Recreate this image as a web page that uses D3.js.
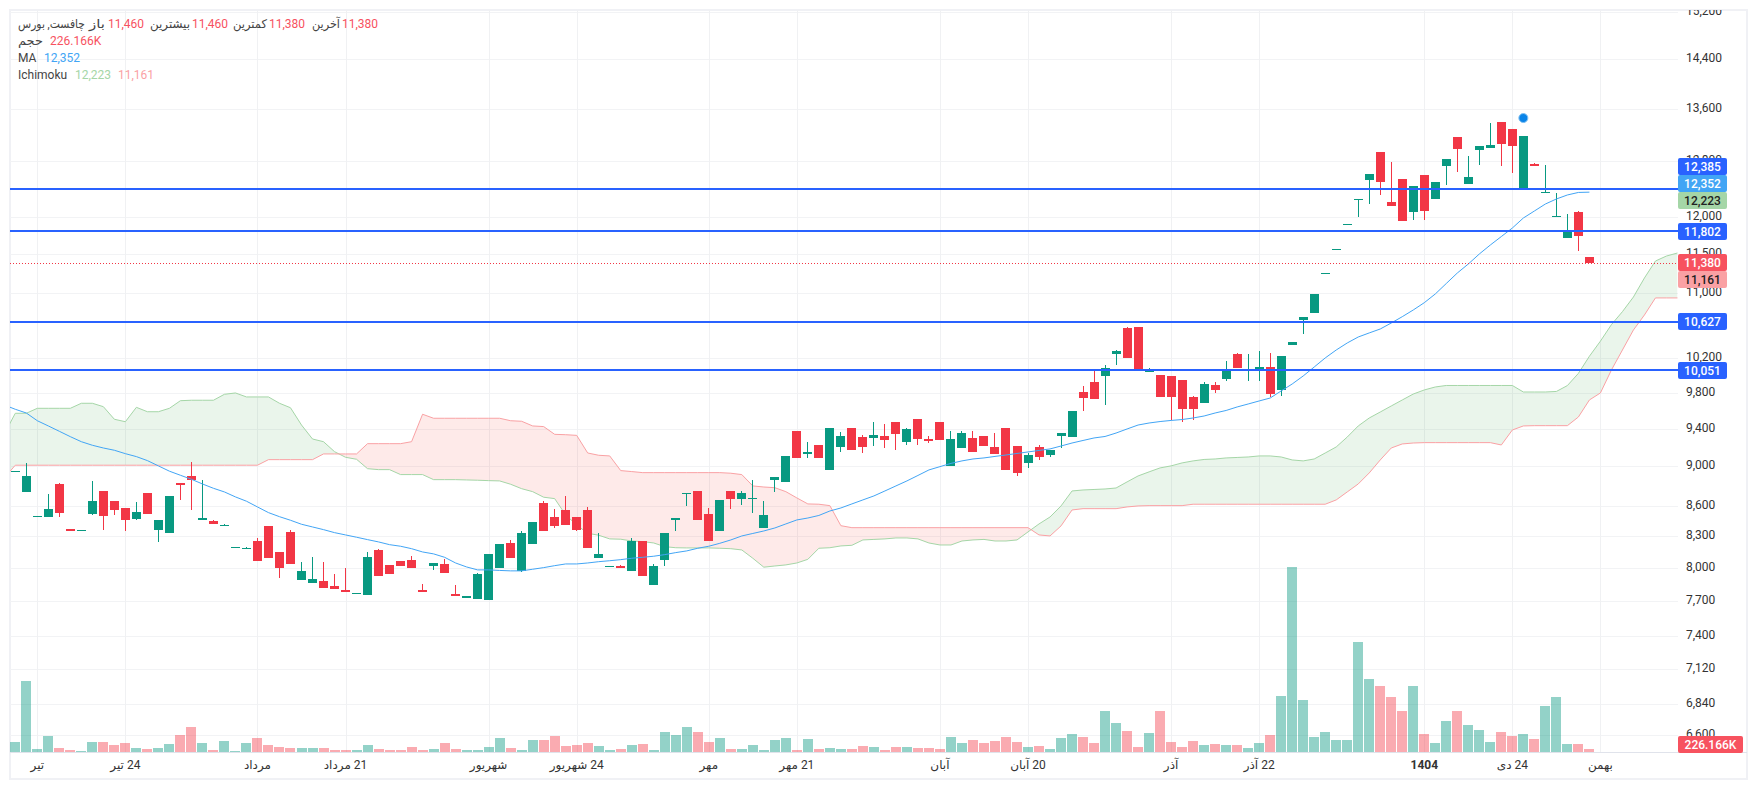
<!DOCTYPE html>
<html>
<head>
<meta charset="utf-8">
<script src="https://cdn.jsdelivr.net/npm/d3@7"></script>
<style>
html,body{margin:0;padding:0;background:#fff;overflow:hidden}
svg{display:block}
text{font-family:Roboto,"Noto Sans","DejaVu Sans",sans-serif;font-size:12px}
</style>
</head>
<body>
<div id="graph"></div>
<script>
// daily candles, oldest first
const opens = [8943,8738,8489,8489,8819,8373,8353,8519,8748,8648,
8578,8470,8728,8363,8334,8829,8901,8460,8450,8402,
8191,8181,8257,8402,8153,8344,7894,7867,7885,7839,
7803,7767,7758,8172,8032,8069,8078,7803,8022,8041,
7767,7732,7723,7714,8004,8238,7977,8229,8628,8489,
8558,8489,8558,8097,8013,8022,7977,8257,7848,8078,
8460,8718,8748,8519,8353,8748,8668,8668,8382,8860,
8840,9375,9130,9225,8963,9204,9408,9310,9300,9321,
9473,9257,9506,9289,9473,9005,9193,9300,9321,9204,
9408,9214,9036,9204,9119,9321,9310,9807,9921,9990,
10247,10559,10571,10036,10001,9990,9944,9751,9683,9887,
9956,10247,10048,10059,10094,9830,10354,10657,10744,11238,
11554,11892,12241,12527,12938,12213,12541,12072,12600,12255,
12730,13164,12469,12968,12998,13394,13286,12412,12760,12341,
12002,11715,12072,11460]
const closes = [8953,8901,8499,8568,8529,8353,8363,8648,8499,8558,
8460,8538,8519,8460,8698,8809,8860,8479,8421,8411,
8200,8191,8069,8097,8004,8041,7977,7903,7821,7812,
7785,7776,8106,7931,7949,8022,8004,7785,8050,7958,
7749,7749,7949,8135,8229,8097,8334,8440,8353,8402,
8411,8363,8191,8135,8022,8004,8257,7931,8022,8334,
8479,8728,8460,8257,8658,8668,8728,8678,8509,8891,
9109,9088,9151,9088,9408,9321,9172,9204,9332,9278,
9343,9397,9289,9268,9278,9289,9353,9151,9214,9130,
8963,8932,9119,9098,9172,9353,9594,9739,9728,10082,
10282,10200,10071,10071,9751,9751,9616,9616,9898,9830,
10071,10082,10071,10094,9784,10223,10390,10694,10982,11251,
11567,11906,12255,12614,12498,12156,11947,12440,12086,12498,
12834,12983,12570,13028,13043,13058,13028,13179,12730,12355,
12016,11824,11742,11380]
const highs = [8953,9036,8499,8718,8829,8373,8363,8850,8748,8648,
8578,8638,8728,8460,8698,8829,9046,8860,8460,8421,
8200,8200,8286,8402,8153,8363,8059,8106,8059,7949,
8004,7776,8153,8181,8032,8069,8116,7858,8050,8088,
7848,7749,7958,8135,8229,8267,8353,8440,8648,8568,
8698,8489,8588,8334,8022,8032,8286,8257,8041,8334,
8479,8728,8748,8578,8658,8748,8748,8860,8648,8891,
9109,9375,9257,9225,9408,9364,9408,9332,9473,9451,
9473,9408,9506,9321,9473,9375,9375,9375,9321,9353,
9408,9214,9140,9225,9172,9353,9594,9875,10059,10117,
10294,10571,10571,10082,10001,9990,9944,9762,9921,9921,
10164,10260,10247,10282,10260,10223,10390,10694,10982,11251,
11567,11906,12255,12614,12938,12790,12541,12440,12600,12498,
12834,13164,12878,13028,13379,13394,13286,13179,12775,12745,
12341,12044,12086,11460]
const lows = [8943,8738,8489,8489,8489,8353,8353,8509,8363,8509,
8353,8460,8519,8248,8334,8658,8558,8460,8421,8402,
8191,8181,8069,8097,7912,8041,7894,7867,7821,7812,
7785,7767,7758,7931,7949,8022,8004,7785,7986,7958,
7749,7732,7723,7714,8004,8097,7968,8229,8353,8382,
8411,8353,8191,8097,8013,8004,7977,7931,7848,8022,
8353,8598,8460,8257,8353,8568,8608,8529,8382,8738,
8840,9088,9088,9088,8963,9151,9172,9140,9214,9193,
9172,9225,9225,9246,9278,9005,9193,9151,9214,9130,
8963,8901,8984,9067,9098,9193,9310,9594,9728,9661,
10117,10200,10071,10036,9751,9495,9473,9495,9683,9795,
9933,10082,9933,9933,9751,9762,10354,10487,10744,11238,
11554,11892,12002,12184,12312,12156,11947,11961,11961,12255,
12455,12643,12469,12745,12998,12730,12628,12412,12730,12341,
12002,11715,11540,11380]
// volume in thousands
const volumes = [750,5325,225,1200,300,150,75,750,750,525,
675,300,225,300,600,1275,1875,675,150,825,
75,675,1050,525,375,300,300,300,300,150,
150,150,525,225,150,150,375,150,225,675,
225,150,150,375,1050,300,150,900,900,1200,
450,525,675,450,150,225,525,600,150,1500,
1275,1875,1500,750,1050,225,225,525,150,900,
1050,150,975,225,300,225,225,450,375,150,
375,375,300,300,225,1125,675,900,675,825,
1125,750,375,450,225,1050,1350,1125,675,3075,
2175,1575,375,1425,3075,750,375,825,525,600,
525,525,300,675,1275,4200,13875,3900,1125,1500,
900,900,8250,5475,4950,4125,3075,4950,1350,675,
2325,3075,2025,1650,750,1500,1200,1350,975,3450,
4125,600,600,226.166]
// moving average, first value is one bar left of the first candle
const ma = [9661,9613,9572,9487,9430,9372,9314,9260,9222,9193,9169,
9133,9102,9060,9005,8950,8908,8867,8819,8775,8738,
8688,8645,8588,8532,8492,8457,8418,8392,8366,8337,
8315,8293,8270,8248,8222,8207,8184,8153,8135,8103,
8050,8013,7986,7986,7981,7977,7977,7992,8007,8025,
8041,8041,8050,8062,8071,8081,8094,8103,8113,8128,
8147,8163,8188,8207,8235,8267,8305,8329,8353,8382,
8421,8460,8479,8504,8548,8578,8618,8658,8698,8748,
8799,8850,8906,8963,8997,9031,9057,9077,9088,9104,
9119,9135,9151,9167,9183,9214,9246,9273,9300,9316,
9353,9397,9440,9462,9478,9490,9500,9517,9539,9572,
9600,9639,9672,9706,9739,9819,9898,9990,10094,10200,
10294,10378,10450,10499,10547,10620,10698,10781,10872,10982,
11116,11251,11369,11501,11621,11735,11851,11989,12086,12184,
12255,12312,12348,12352]
// ichimoku cloud edges, also from one bar left, running on past the last candle
const spanA = [9343,9569,9569,9624,9624,9624,9624,9680,9680,9642,9503,
9476,9635,9586,9586,9624,9709,9714,9714,9714,9781,
9796,9751,9751,9751,9680,9630,9440,9289,9260,9154,
9095,9074,8976,8966,8966,8915,8915,8915,8863,8863,
8863,8860,8857,8853,8850,8816,8771,8741,8685,8671,
8509,8411,8331,8312,8277,8274,8257,8251,8238,8203,
8193,8191,8191,8191,8188,8184,8172,8094,8011,8022,
8032,8050,8084,8188,8193,8210,8216,8267,8272,8277,
8286,8286,8277,8238,8219,8219,8257,8267,8272,8257,
8257,8267,8344,8421,8489,8598,8748,8758,8763,8768,
8778,8840,8901,8943,8984,9005,9036,9057,9072,9077,
9088,9093,9098,9109,9109,9098,9067,9057,9077,9140,
9204,9310,9430,9517,9583,9650,9717,9784,9830,9864,
9881,9881,9881,9881,9881,9881,9881,9807,9807,9807,
9813,9880,10020,10220,10400,10600,10760,10944,11187,11408,
11474,11514]
const spanB = [8880,9012,9012,9012,9012,9012,9012,9012,9012,9012,9012,
9012,9012,9012,9012,9012,9012,9012,9012,9012,9012,
9012,9012,9012,9070,9070,9070,9070,9070,9130,9130,
9130,9130,9239,9239,9239,9239,9260,9558,9514,9514,
9514,9514,9514,9514,9514,9487,9481,9430,9423,9339,
9335,9328,9140,9116,9109,8956,8946,8935,8935,8935,
8935,8935,8935,8935,8935,8929,8915,8799,8788,8781,
8741,8678,8618,8615,8601,8404,8385,8385,8385,8385,
8385,8385,8385,8385,8385,8385,8385,8385,8385,8385,
8385,8385,8385,8315,8305,8402,8558,8571,8571,8571,
8571,8588,8598,8601,8601,8601,8601,8615,8615,8615,
8615,8615,8615,8615,8615,8615,8615,8615,8615,8615,
8658,8738,8819,8932,9067,9193,9236,9246,9250,9250,
9250,9250,9250,9250,9250,9225,9386,9430,9433,9433,
9433,9433,9528,9717,9796,10059,10294,10535,10719,10932,
10932,10932]

const priceTicks = [15200,14400,13600,12800,12000,11500,11000,10200,9800,9400,9000,8600,8300,8000,7700,7400,7120,6840,6600]
const levelLines = [12385,11802,10627,10051]
const timeTickBars = [2,10,22,30,43,51,63,71,84,92,105,113,128,136,144]
const timeTickLabels = ["تیر","24 تیر","مرداد","21 مرداد","شهریور","24 شهریور","مهر","21 مهر","آبان","20 آبان","آذر","22 آذر","1404","24 دی","بهمن"]
const lastPrice = 11380, maLast = 12352, spanALast = 12223, spanBLast = 11161, lastVolume = "226.166K"
const signalBar = 137

const width = 1757, height = 790
const plotLeft = 10, plotRight = 1678, plotTop = 10, plotBottom = 752
const GREEN = "#089981", RED = "#F23645", BLUE = "#2962FF", MABLUE = "#42A5F5"
const CLOUDG = "#A5D6A7", CLOUDR = "#FAA1A4"

const svg = d3.select("div#graph").append("svg").attr("width",width).attr("height",height)

const x = d3.scaleLinear().domain([0,143]).range([15.3,1589.4])
const y = d3.scaleLog().domain([14400,7120]).range([59.3,669.3])
const v = d3.scaleLinear().domain([0,13875]).range([plotBottom,567])

svg.append("clipPath").attr("id","plot").append("rect")
	.attr("x",plotLeft).attr("y",plotTop).attr("width",plotRight-plotLeft).attr("height",plotBottom-plotTop)

// frame
svg.append("rect").attr("x",10).attr("y",10).attr("width",1737).attr("height",769)
	.style("fill","none").style("stroke","#f0f1f5").style("stroke-width",2)

// grid
svg.selectAll("line.hgrid").data(priceTicks).enter().append("line").attr("class","hgrid")
	.attr("x1",plotLeft).attr("x2",plotRight)
	.attr("y1",d=>Math.round(y(d))+0.5).attr("y2",d=>Math.round(y(d))+0.5)
	.style("stroke","#f2f3f5")
svg.selectAll("line.vgrid").data(timeTickBars).enter().append("line").attr("class","vgrid")
	.attr("y1",plotTop).attr("y2",plotBottom)
	.attr("x1",d=>Math.round(x(d))+0.5).attr("x2",d=>Math.round(x(d))+0.5)
	.style("stroke","#f0f1f3")

const plot = svg.append("g").attr("clip-path","url(#plot)")

// cloud: the same band painted twice, clipped above and below span B
const cloudBars = spanA.map((d,i)=>i-1)
const band = d3.area().x(i=>x(i)).y0(i=>y(spanA[i+1])).y1(i=>y(spanB[i+1]))
const aboveB = d3.area().x(i=>x(i)).y0(0).y1(i=>y(spanB[i+1]))
const belowB = d3.area().x(i=>x(i)).y0(height).y1(i=>y(spanB[i+1]))
svg.append("clipPath").attr("id","aboveB").append("path").attr("d",aboveB(cloudBars))
svg.append("clipPath").attr("id","belowB").append("path").attr("d",belowB(cloudBars))
plot.append("g").attr("clip-path","url(#aboveB)").append("path").attr("d",band(cloudBars))
	.style("fill","#43A047").style("fill-opacity",0.11)
plot.append("g").attr("clip-path","url(#belowB)").append("path").attr("d",band(cloudBars))
	.style("fill","#F44336").style("fill-opacity",0.11)
plot.append("path").attr("d",d3.line().x(i=>x(i)).y(i=>y(spanA[i+1]))(cloudBars))
	.style("fill","none").style("stroke",CLOUDG).style("stroke-width",1)
plot.append("path").attr("d",d3.line().x(i=>x(i)).y(i=>y(spanB[i+1]))(cloudBars))
	.style("fill","none").style("stroke",CLOUDR).style("stroke-width",1)

// volume
plot.selectAll("rect.vol").data(volumes).enter().append("rect").attr("class","vol")
	.attr("x",(d,i)=>Math.round(x(i)-5)).attr("width",10)
	.attr("y",d=>Math.round(v(d))).attr("height",d=>plotBottom-Math.round(v(d)))
	.style("fill",(d,i)=>closes[i]>=opens[i]?GREEN:RED)
	.style("fill-opacity",(d,i)=>closes[i]>=opens[i]?0.44:0.42)
	.style("shape-rendering","crispEdges")

// candles
const candles = plot.selectAll("g.candle").data(opens).enter().append("g").attr("class","candle")
	.style("fill",(d,i)=>closes[i]>=opens[i]?GREEN:RED)
	.style("shape-rendering","crispEdges")
candles.append("rect")
	.attr("x",(d,i)=>Math.round(x(i)-4.5)+4).attr("width",1)
	.attr("y",(d,i)=>Math.round(y(highs[i])))
	.attr("height",(d,i)=>Math.max(1,Math.round(y(lows[i]))-Math.round(y(highs[i]))))
candles.append("rect")
	.attr("x",(d,i)=>Math.round(x(i)-4.5)).attr("width",9)
	.attr("y",(d,i)=>Math.round(y(Math.max(opens[i],closes[i]))))
	.attr("height",(d,i)=>Math.max(1,Math.round(y(Math.min(opens[i],closes[i])))-Math.round(y(Math.max(opens[i],closes[i])))))

// moving average
plot.append("path")
	.attr("d",d3.line().x((d,i)=>x(i-1)).y(d=>y(d))(ma))
	.style("fill","none").style("stroke",MABLUE).style("stroke-width",1)

// horizontal levels
plot.selectAll("line.level").data(levelLines).enter().append("line").attr("class","level")
	.attr("x1",plotLeft).attr("x2",plotRight).attr("y1",d=>Math.floor(y(d))).attr("y2",d=>Math.floor(y(d)))
	.style("stroke",BLUE).style("stroke-width",2).style("shape-rendering","crispEdges")
plot.append("line").attr("x1",plotLeft).attr("x2",plotRight)
	.attr("y1",Math.round(y(lastPrice))+0.5).attr("y2",Math.round(y(lastPrice))+0.5)
	.style("stroke",RED).style("stroke-dasharray","1,2")

// signal dot above the big green candle
svg.append("circle").attr("cx",x(signalBar)).attr("cy",y(highs[signalBar])-18).attr("r",4.5)
	.style("fill","#0A84E8").style("stroke","#7fc0f2").style("stroke-width",1)

// bottom axis
svg.append("line").attr("x1",plotLeft).attr("x2",1747).attr("y1",752.5).attr("y2",752.5).style("stroke","#e0e3eb")
svg.selectAll("text.timetick").data(timeTickBars).enter().append("text").attr("class","timetick")
	.attr("x",d=>x(d)).attr("y",769)
	.attr("text-anchor","middle").attr("direction","rtl")
	.style("font-weight",(d,i)=>timeTickLabels[i]=="1404"?"700":"400")
	.style("fill","#333")
	.text((d,i)=>timeTickLabels[i])

// right axis
const fmt = d3.format(",")
svg.append("clipPath").attr("id","axisclip").append("rect").attr("x",plotRight).attr("y",plotTop).attr("width",70).attr("height",plotBottom-plotTop)
svg.append("g").attr("clip-path","url(#axisclip)")
	.selectAll("text").data(priceTicks).enter().append("text")
	.attr("x",1686).attr("y",d=>y(d)+3)
	.style("fill","#333").text(d=>fmt(d))

// value tags, pushed upward when they would overlap
const tagH = 17
const tags = [
	{price:12385,bg:BLUE,fg:"#fff"},
	{price:maLast,bg:MABLUE,fg:"#fff"},
	{price:spanALast,bg:CLOUDG,fg:"#222"},
	{price:11802,bg:BLUE,fg:"#fff"},
	{price:lastPrice,bg:"#F7525F",fg:"#fff"},
	{price:spanBLast,bg:CLOUDR,fg:"#222"},
	{price:10627,bg:BLUE,fg:"#fff"},
	{price:10051,bg:BLUE,fg:"#fff"}
]
tags.forEach(t=>{t.cy=y(t.price)-0.5;t.label=fmt(t.price);t.w=49})
for (let k=tags.length-2;k>=0;k--) tags[k].cy=Math.min(tags[k].cy,tags[k+1].cy-tagH)
tags.push({cy:744,bg:"#F7525F",fg:"#fff",label:lastVolume,w:65})
const tag = svg.selectAll("g.tag").data(tags).enter().append("g").attr("class","tag")
tag.append("rect").attr("x",plotRight).attr("y",d=>Math.round(d.cy-tagH/2)).attr("width",d=>d.w).attr("height",tagH).attr("rx",2)
	.style("fill",d=>d.bg)
tag.append("text").attr("x",d=>plotRight+d.w/2).attr("y",d=>Math.round(d.cy-tagH/2)+13).attr("text-anchor","middle")
	.style("fill",d=>d.fg).style("font-weight","500").text(d=>d.label)

// legend
const LABEL = "#444", NUM = "#F7525F"
const legend = [
	{x:18,y:28,t:"چافست, بورس",c:LABEL,w:67},
	{x:89,y:28,t:"باز",c:LABEL,w:16},
	{x:108,y:28,t:"11,460",c:NUM},
	{x:150,y:28,t:"بیشترین",c:LABEL,w:40},
	{x:192,y:28,t:"11,460",c:NUM},
	{x:233,y:28,t:"کمترین",c:LABEL,w:34},
	{x:269,y:28,t:"11,380",c:NUM},
	{x:312,y:28,t:"آخرین",c:LABEL,w:28},
	{x:342,y:28,t:"11,380",c:NUM},
	{x:18,y:45,t:"حجم",c:LABEL,w:25},
	{x:50,y:45,t:lastVolume,c:NUM},
	{x:18,y:62,t:"MA",c:LABEL},
	{x:44,y:62,t:fmt(maLast),c:MABLUE},
	{x:18,y:79,t:"Ichimoku",c:LABEL},
	{x:75,y:79,t:fmt(spanALast),c:CLOUDG},
	{x:118,y:79,t:fmt(spanBLast),c:CLOUDR}
]
svg.selectAll("text.legend").data(legend).enter().append("text").attr("class","legend")
	.attr("x",d=>d.x).attr("y",d=>d.y)
	.style("fill",d=>d.c)
	.attr("textLength",d=>d.w||null).attr("lengthAdjust","spacingAndGlyphs")
	.text(d=>d.t)
</script>
</body>
</html>
